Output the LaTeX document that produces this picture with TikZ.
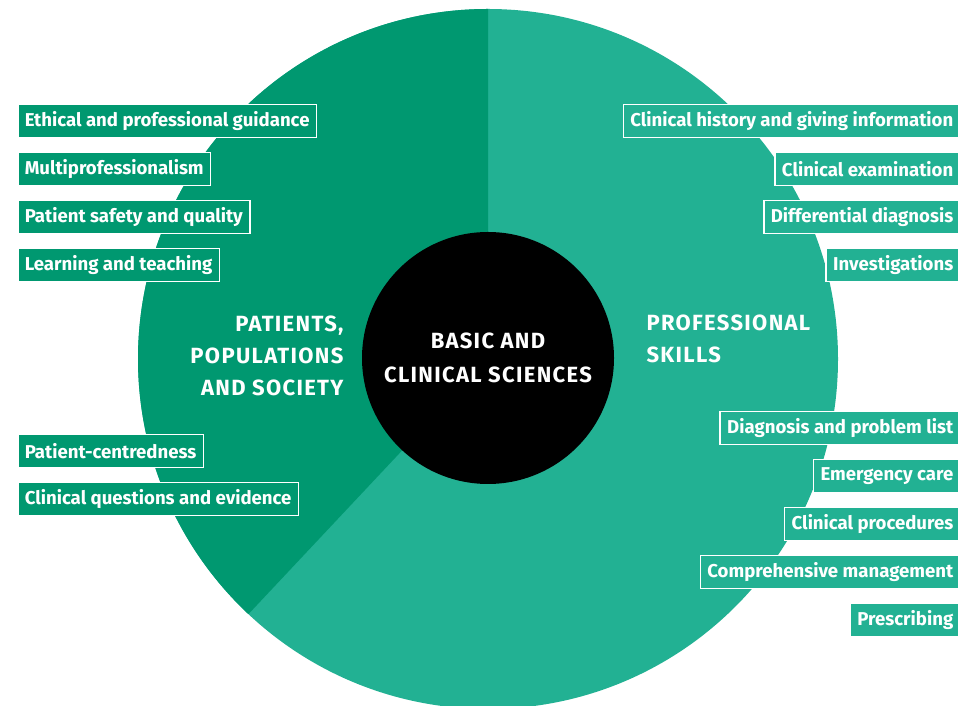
\documentclass[tikz,border=0pt]{standalone}
\usepackage{fontspec}
\setmainfont{Fira Sans}
\newfontfamily\capsfont{Fira Sans}[LetterSpace=6]
\definecolor{darkgreen}{RGB}{0,152,112}
\definecolor{lightgreen}{RGB}{34,177,147}
\tikzset{
  leftbox/.style={draw=white, line width=1.5pt, fill=darkgreen, text=white,
    font=\fontsize{18.6}{20}\selectfont\bfseries, inner xsep=7pt, inner ysep=0pt,
    minimum height=33pt, anchor=west},
  rightbox/.style={leftbox, fill=lightgreen, anchor=east},
  heading/.style={text=white, font=\capsfont\fontsize{22}{32}\selectfont\bfseries}
}
\begin{document}
\begin{tikzpicture}[x=1pt,y=1pt]
   \useasboundingbox (0,0) rectangle (958,706);
   % disc and the dark sector
   \coordinate (hub) at (488,347);
   \fill[lightgreen] (hub) circle (350pt);
   \fill[darkgreen] (hub) -- ++(90:350pt) arc[start angle=90, end angle=226.8, radius=350pt] -- cycle;

   \node[circle, fill=black, minimum size=252pt, text=white, align=center,
         font=\capsfont\fontsize{22}{34}\selectfont\bfseries] (core) at (488,348)
         {BASIC AND\\CLINICAL SCIENCES};

   \node[heading, anchor=east, align=right] (society) at (347,350)
         {PATIENTS,\\POPULATIONS\\AND SOCIETY};
   \node[heading, anchor=west, align=left] (skills) at (643,367)
         {PROFESSIONAL\\SKILLS};

   % left column
   \node[leftbox] (ethics) at (17,585) {Ethical and professional guidance};
   \node[leftbox] (multi) at (17,537) {Multiprofessionalism};
   \node[leftbox] (safety) at (17,489) {Patient safety and quality};
   \node[leftbox] (learning) at (17,441) {Learning and teaching};
   \node[leftbox] (centred) at (17,255) {Patient-centredness};
   \node[leftbox] (evidence) at (17,207) {Clinical questions and evidence};

   % right column
   \node[rightbox] (history) at (961,585) {Clinical history and giving information};
   \node[rightbox] (exam) at (961,537) {Clinical examination};
   \node[rightbox] (differential) at (961,489) {Differential diagnosis};
   \node[rightbox] (invest) at (961,441) {Investigations};
   \node[rightbox] (problems) at (961,278) {Diagnosis and problem list};
   \node[rightbox] (emergency) at (961,230) {Emergency care};
   \node[rightbox] (procedures) at (961,182) {Clinical procedures};
   \node[rightbox] (management) at (961,134) {Comprehensive management};
   \node[rightbox] (prescribing) at (961,86) {Prescribing};
\end{tikzpicture}
\end{document}
